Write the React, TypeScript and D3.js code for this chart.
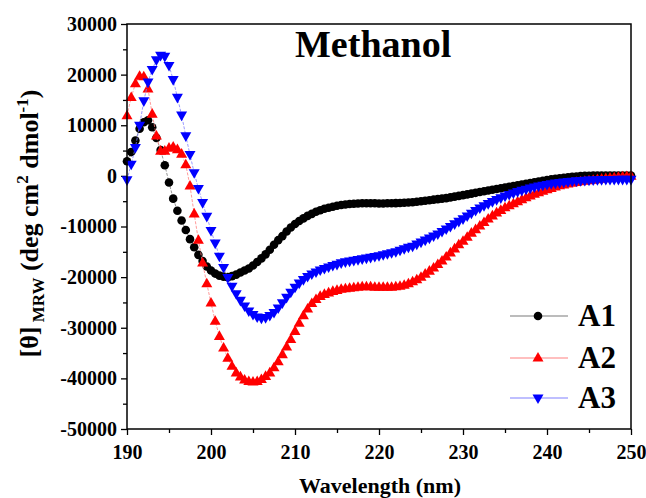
import { useEffect, useRef } from "react";
import * as d3 from "d3";

const width = 646;
const height = 498;
const margin = { top: 24, right: 15, bottom: 69, left: 127 };

// sampling grid, 0.5 nm steps
const wavelength = d3.range(190, 250.001, 0.5);

// [θ]MRW values, 190 -> 250 nm
const a1 = [
  2900, 4700, 7000, 9300, 10600, 11000, 9600, 7500, 5100, 2100,
  -1300, -4500, -6900, -8800, -10700, -12500, -14100, -15600, -16800, -17900,
  -18700, -19300, -19700, -19900, -20000, -19800, -19500, -19100, -18700, -18300,
  -17700, -17000, -16300, -15500, -14600, -13600, -12700, -11900, -11000, -10200,
  -9500, -8900, -8400, -7900, -7500, -7100, -6800, -6500, -6300, -6100,
  -5900, -5750, -5650, -5550, -5500, -5450, -5420, -5400, -5400, -5420,
  -5450, -5450, -5420, -5400, -5380, -5350, -5300, -5250, -5200, -5100,
  -5000, -4900, -4800, -4700, -4600, -4500, -4400, -4250, -4100, -3950,
  -3800, -3650, -3500, -3350, -3200, -3050, -2900, -2750, -2600, -2450,
  -2300, -2150, -2000, -1850, -1700, -1550, -1400, -1250, -1100, -950,
  -800, -700, -600, -500, -400, -300, -200, -120, -50, 0,
  30, 50, 60, 70, 80, 80, 80, 80, 80, 80,
  80,
];

const a2 = [
  11900, 15500, 18200, 19700, 19600, 17200, 12200, 7900, 4900, 4900,
  5500, 5700, 5200, 4300, 2200, -2000, -7500, -12700, -17200, -21300,
  -25100, -28700, -31700, -34000, -36000, -37600, -38900, -39700, -40300, -40600,
  -40700, -40600, -40200, -39600, -38900, -37900, -36700, -35300, -33800, -32300,
  -30700, -29100, -27600, -26300, -25200, -24400, -23800, -23400, -23100, -22800,
  -22600, -22400, -22300, -22200, -22100, -22000, -21900, -21900, -21900, -22000,
  -22000, -22000, -22000, -22000, -21900, -21800, -21600, -21300, -20900, -20500,
  -20000, -19400, -18800, -18200, -17500, -16800, -16000, -15200, -14400, -13600,
  -12900, -12100, -11300, -10600, -9900, -9200, -8500, -7900, -7300, -6800,
  -6300, -5900, -5500, -5100, -4700, -4300, -3950, -3600, -3300, -3000,
  -2700, -2450, -2200, -1950, -1800, -1600, -1420, -1280, -1150, -1040,
  -940, -840, -740, -640, -540, -440, -350, -260, -180, -110,
  -60,
];

const a3 = [
  -800, 2300, 5600, 10000, 14800, 18500, 21000, 22900, 23800, 23600,
  21800, 19000, 15500, 12000, 7900, 4200, 600, -2500, -5300, -8000,
  -10800, -13300, -15900, -18100, -20100, -21800, -23300, -24600, -25700, -26700,
  -27400, -27900, -28100, -28000, -27600, -27000, -26100, -25100, -24000, -23000,
  -22000, -21200, -20500, -19900, -19400, -19000, -18600, -18300, -18000, -17700,
  -17500, -17200, -17000, -16850, -16700, -16550, -16400, -16250, -16100, -15950,
  -15800, -15600, -15400, -15200, -15000, -14700, -14400, -14100, -13900, -13500,
  -13100, -12700, -12300, -11900, -11500, -11000, -10500, -10000, -9500, -9000,
  -8500, -7950, -7400, -6850, -6350, -5900, -5500, -5100, -4700, -4350,
  -4000, -3700, -3400, -3130, -2880, -2640, -2420, -2220, -2030, -1860,
  -1700, -1570, -1450, -1340, -1240, -1150, -1070, -1000, -940, -890,
  -850, -810, -780, -760, -740, -730, -720, -710, -700, -700,
  -700,
];

const xTicks = [190, 200, 210, 220, 230, 240, 250];
const xMinor = [195, 205, 215, 225, 235, 245];
const yTicks = [-50000, -40000, -30000, -20000, -10000, 0, 10000, 20000, 30000];
const yMinor = [-45000, -35000, -25000, -15000, -5000, 5000, 15000, 25000];

const series = [
  { name: "A1", values: a1, color: "#000000", line: "#7a7a7a", shape: "circle" },
  { name: "A2", values: a2, color: "#ff0000", line: "#ff8080", shape: "up" },
  { name: "A3", values: a3, color: "#0000ff", line: "#8080ff", shape: "down" },
];

const font = "Liberation Serif, Times New Roman, DejaVu Serif, serif";

function markerPath(shape: string) {
  if (shape === "up") return "M0,-6L5.5,3.6L-5.5,3.6Z";
  if (shape === "down") return "M0,6L5.5,-3.6L-5.5,-3.6Z";
  return d3.symbol(d3.symbolCircle, 58)();
}

function App() {
  const d3Node = useRef<SVGSVGElement | null>(null);

  useEffect(() => {
    const svg = d3.select(d3Node.current);
    svg.selectAll("*").remove();

    const iw = width - margin.left - margin.right;
    const ih = height - margin.top - margin.bottom;

    const x = d3.scaleLinear().domain([190, 250]).range([0, iw]);
    const y = d3.scaleLinear().domain([-50000, 30000]).range([ih, 0]);

    const g = svg
      .append("g")
      .attr("transform", "translate(" + margin.left + "," + margin.top + ")");

    // x axis
    const xAxis = g
      .append("g")
      .attr("transform", "translate(0," + ih + ")")
      .call(
        d3.axisBottom(x).tickValues(xTicks).tickSize(6).tickSizeOuter(0).tickPadding(10)
          .tickFormat((d) => String(d))
      );
    g.append("g")
      .attr("transform", "translate(0," + ih + ")")
      .call(d3.axisBottom(x).tickValues(xMinor).tickSize(4).tickSizeOuter(0).tickFormat(() => ""))
      .call((a) => a.select(".domain").remove());

    // y axis
    const yAxis = g
      .append("g")
      .call(
        d3.axisLeft(y).tickValues(yTicks).tickSize(6).tickSizeOuter(0).tickPadding(4)
          .tickFormat((d) => String(d))
      );
    g.append("g")
      .call(d3.axisLeft(y).tickValues(yMinor).tickSize(4).tickSizeOuter(0).tickFormat(() => ""))
      .call((a) => a.select(".domain").remove());

    [xAxis, yAxis].forEach((a) => {
      a.select(".domain").remove();
      a.attr("font-family", null);
      a.selectAll("text")
        .style("font-family", font)
        .style("font-weight", "bold")
        .style("font-size", "20px")
        .attr("fill", "#000");
    });
    g.selectAll(".tick line").attr("stroke", "#000").attr("stroke-width", 1.3);

    // curves
    const line = d3
      .line<number>()
      .x((d, i) => x(wavelength[i]))
      .y((d) => y(d));

    series.forEach((s) => {
      g.append("path")
        .datum(s.values)
        .attr("fill", "none")
        .attr("stroke", s.line)
        .attr("stroke-width", 0.8)
        .attr("stroke-dasharray", "3,1.5")
        .attr("d", line);
      g.selectAll(".m-" + s.name)
        .data(s.values)
        .enter()
        .append("path")
        .attr("class", "m-" + s.name)
        .attr("d", markerPath(s.shape))
        .attr("fill", s.color)
        .attr("transform", (d, i) => "translate(" + x(wavelength[i]) + "," + y(d) + ")");
    });

    // frame
    g.append("rect")
      .attr("width", iw)
      .attr("height", ih)
      .attr("fill", "none")
      .attr("stroke", "#000")
      .attr("stroke-width", 1.5);

    // title
    g.append("text")
      .attr("x", x(219.3))
      .attr("y", 33)
      .attr("text-anchor", "middle")
      .style("font-family", font)
      .style("font-weight", "bold")
      .style("font-size", "38px")
      .text("Methanol");

    // legend
    const legendY = [292, 334, 374];
    series.forEach((s, i) => {
      const lg = g.append("g").attr("transform", "translate(383," + legendY[i] + ")");
      lg.append("line").attr("x1", 0).attr("x2", 58).attr("stroke", s.line).attr("stroke-width", 1.2);
      lg.append("path").attr("d", markerPath(s.shape)).attr("fill", s.color).attr("transform", "translate(28,0)");
      lg.append("text")
        .attr("x", 68)
        .attr("y", 10)
        .style("font-family", font)
        .style("font-weight", "bold")
        .style("font-size", "31px")
        .text(s.name);
    });

    // axis titles
    svg.append("text")
      .attr("x", margin.left + iw / 2 + 1)
      .attr("y", 493)
      .attr("text-anchor", "middle")
      .style("font-family", font)
      .style("font-weight", "bold")
      .style("font-size", "22px")
      .text("Wavelength (nm)");

    const yl = svg.append("text")
      .attr("transform", "translate(38," + (margin.top + ih / 2 - 3) + ") rotate(-90)")
      .attr("text-anchor", "middle")
      .style("font-family", font)
      .style("font-weight", "bold")
      .style("font-size", "26px");
    yl.append("tspan").text("[θ]");
    yl.append("tspan").style("font-size", "17px").attr("dy", 6).text(" MRW");
    yl.append("tspan").attr("dy", -6).text(" (deg cm");
    yl.append("tspan").style("font-size", "17px").attr("dy", -10).text("2");
    yl.append("tspan").attr("dy", 10).text(" dmol");
    yl.append("tspan").style("font-size", "17px").attr("dy", -10).text("-1");
    yl.append("tspan").attr("dy", 10).text(")");
  }, []);

  return (
    <svg
      ref={d3Node}
      width={width}
      height={height}
      style={{ position: "absolute", left: 0, top: 0, background: "#fff" }}
    />
  );
}

export default App;
